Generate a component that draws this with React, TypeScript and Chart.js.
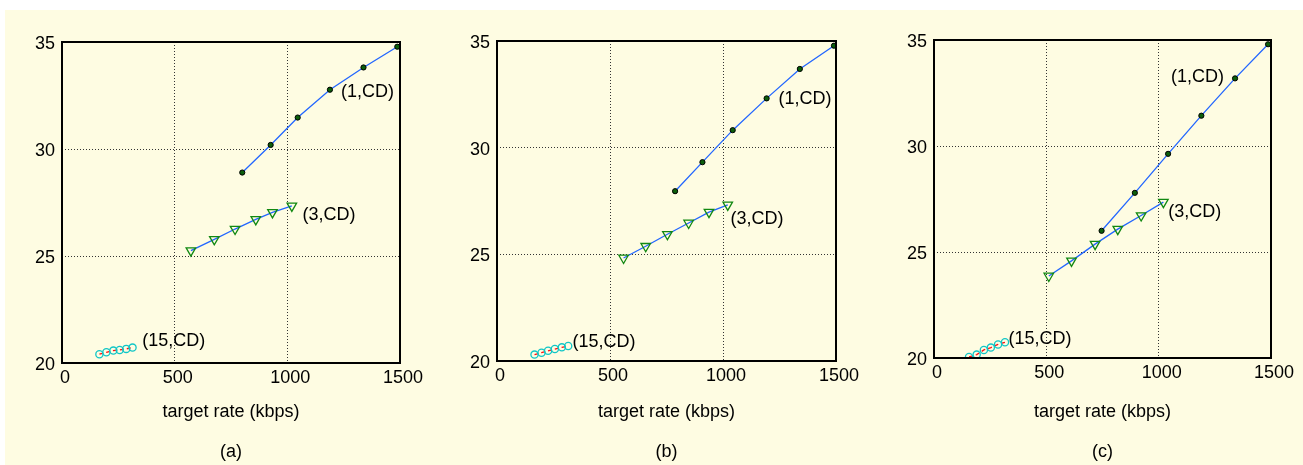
import React, { useEffect, useRef } from "react";
import { Chart, registerables } from "chart.js";

Chart.register(...registerables);

// ---------- data ----------
const xTickValues = [0, 500, 1000, 1500];
const yTickValues = [20, 25, 30, 35];
const xTitle = "target rate (kbps)";
const panelNames = ["(a)", "(b)", "(c)"];
const seriesNames = ["(1,CD)", "(3,CD)", "(15,CD)"];

// panel (a)
const aRate1 = [800, 926, 1046, 1189, 1338, 1488];
const aPsnr1 = [28.9, 30.19, 31.47, 32.77, 33.81, 34.78];
const aRate3 = [572, 676, 768, 860, 934, 1020];
const aPsnr3 = [25.25, 25.78, 26.26, 26.71, 27.04, 27.34];
const aRate15 = [166, 197, 228, 256, 285, 313];
const aPsnr15 = [20.41, 20.5, 20.58, 20.61, 20.66, 20.72];
const aLabelX = [1238, 1067, 356];
const aLabelY = [32.64, 26.92, 21.03];

// panel (b)
const bRate1 = [788, 909, 1043, 1193, 1340, 1491];
const bPsnr1 = [27.96, 29.32, 30.82, 32.31, 33.69, 34.78];
const bRate3 = [560, 658, 754, 848, 938, 1021];
const bPsnr3 = [24.83, 25.38, 25.94, 26.47, 26.98, 27.32];
const bRate15 = [166, 197, 226, 256, 287, 315];
const bPsnr15 = [20.3, 20.39, 20.48, 20.56, 20.64, 20.7];
const bLabelX = [1246, 1033, 334];
const bLabelY = [32.26, 26.65, 20.89];

// panel (c)
const cRate1 = [746, 894, 1042, 1190, 1340, 1487];
const cPsnr1 = [26.0, 27.79, 29.63, 31.43, 33.19, 34.8];
const cRate3 = [511, 612, 717, 818, 922, 1021];
const cPsnr3 = [23.87, 24.58, 25.37, 26.08, 26.72, 27.35];
const cRate15 = [156, 190, 222, 253, 285, 316];
const cPsnr15 = [20.05, 20.16, 20.38, 20.49, 20.64, 20.74];
const cLabelX = [1055, 1043, 332];
const cLabelY = [33.25, 26.88, 20.9];

// ---------- helpers ----------
const FONT = '"Liberation Sans", Arial, sans-serif';
const FS = 18;
const toPts = (xs: number[], ys: number[]) => xs.map((x, i) => ({ x, y: ys[i] }));

const framePlugin = {
  id: "frameLabels",
  afterDatasetsDraw(chart: any, _args: any, opts: any) {
    const { ctx, chartArea, scales } = chart;
    const { left, top, right, bottom } = chartArea;
    ctx.save();
    ctx.strokeStyle = "#000";
    ctx.lineWidth = 2;
    ctx.setLineDash([]);
    ctx.strokeRect(left, top, right - left, bottom - top);
    ctx.font = `${FS}px ${FONT}`;
    ctx.fillStyle = "#000";
    ctx.textBaseline = "middle";
    ctx.textAlign = "left";
    (opts.labels || []).forEach((l: any) => {
      ctx.fillText(l.text, scales.x.getPixelForValue(l.x), scales.y.getPixelForValue(l.y));
    });
    ctx.restore();
  },
};

type PanelProps = {
  left: number;
  top: number;
  width: number;
  xAxisHeight: number;
  name: string;
  r1: number[]; p1: number[];
  r3: number[]; p3: number[];
  r15: number[]; p15: number[];
  lx: number[]; ly: number[];
};

function Panel(props: PanelProps) {
  const ref = useRef<HTMLCanvasElement>(null);
  const height = 465 - props.top;
  useEffect(() => {
    if (!ref.current) return;
    const gridColor = (c: any) => {
      const v = c.tick ? c.tick.value : null;
      if (v === 0 || v === 1500 || v === 20 || v === 35) return "rgba(0,0,0,0)";
      return "#333";
    };
    const chart = new Chart(ref.current, {
      type: "scatter",
      data: {
        datasets: [
          {
            label: seriesNames[0],
            data: toPts(props.r1, props.p1),
            showLine: true,
            borderColor: "#2266ff",
            borderWidth: 1.3,
            pointStyle: "circle",
            pointRadius: 2.6,
            pointBackgroundColor: "#0b5e0b",
            pointBorderColor: "#000",
            pointBorderWidth: 1,
          },
          {
            label: seriesNames[1],
            data: toPts(props.r3, props.p3),
            showLine: true,
            borderColor: "#2266ff",
            borderWidth: 1.3,
            pointStyle: "triangle",
            rotation: 180,
            pointRadius: 5.5,
            pointBackgroundColor: "rgba(0,0,0,0)",
            pointBorderColor: "#118811",
            pointBorderWidth: 1.3,
          },
          {
            label: seriesNames[2],
            data: toPts(props.r15, props.p15),
            showLine: true,
            borderColor: "#ff1010",
            borderWidth: 1.3,
            borderDash: [4, 3],
            pointStyle: "circle",
            pointRadius: 3.6,
            pointBackgroundColor: "rgba(0,0,0,0)",
            pointBorderColor: "#11c6c6",
            pointBorderWidth: 1.3,
          },
        ],
      },
      options: {
        animation: false,
        responsive: false,
        maintainAspectRatio: false,
        layout: { padding: { top: 20, right: 30, left: 0, bottom: 0 } },
        plugins: {
          legend: { display: false },
          tooltip: { enabled: false },
          frameLabels: {
            labels: seriesNames.map((t, i) => ({ text: t, x: props.lx[i], y: props.ly[i] })),
          },
        } as any,
        scales: {
          x: {
            type: "linear",
            min: 0,
            max: 1500,
            afterBuildTicks: (s: any) => {
              s.ticks = xTickValues.map((v) => ({ value: v }));
            },
            afterFit: (s: any) => {
              s.height = props.xAxisHeight;
            },
            grid: { color: gridColor, lineWidth: 1, drawTicks: false, borderDash: [1, 2] } as any,
            border: { display: false, dash: [1, 2] },
            ticks: {
              color: "#000",
              font: { size: FS, family: FONT },
              padding: 4,
              labelOffset: 3,
              maxRotation: 0,
              callback: (v: any) => String(v),
            },
            title: {
              display: true,
              text: [xTitle, "", props.name],
              color: "#000",
              font: { size: FS, family: FONT, lineHeight: "20px" },
              padding: { top: 0, bottom: 3 },
            },
          },
          y: {
            type: "linear",
            min: 20,
            max: 35,
            afterBuildTicks: (s: any) => {
              s.ticks = yTickValues.map((v) => ({ value: v }));
            },
            afterFit: (s: any) => {
              s.width = 50;
            },
            grid: { color: gridColor, lineWidth: 1, drawTicks: false, borderDash: [1, 2] } as any,
            border: { display: false, dash: [1, 2] },
            ticks: {
              color: "#000",
              font: { size: FS, family: FONT },
              padding: 7,
              labelOffset: 2,
              callback: (v: any) => String(v),
            },
          },
        },
      },
      plugins: [framePlugin as any],
    });
    return () => chart.destroy();
  }, []);
  return (
    <canvas
      ref={ref}
      width={props.width}
      height={height}
      style={{ position: "absolute", left: props.left, top: props.top, width: props.width, height }}
    />
  );
}

export default function App() {
  return (
    <div style={{ position: "fixed", left: 0, top: 0, width: 1303, height: 465, background: "#fff", overflow: "hidden" }}>
      <div style={{ position: "absolute", left: 5, top: 10, right: 0, bottom: 0, background: "#fefce2" }} />
      <Panel left={12} top={22} width={418} xAxisHeight={102} name={panelNames[0]}
        r1={aRate1} p1={aPsnr1} r3={aRate3} p3={aPsnr3} r15={aRate15} p15={aPsnr15} lx={aLabelX} ly={aLabelY} />
      <Panel left={447} top={21} width={419} xAxisHeight={104} name={panelNames[1]}
        r1={bRate1} p1={bPsnr1} r3={bRate3} p3={bPsnr3} r15={bRate15} p15={bPsnr15} lx={bLabelX} ly={bLabelY} />
      <Panel left={884} top={20} width={417} xAxisHeight={107} name={panelNames[2]}
        r1={cRate1} p1={cPsnr1} r3={cRate3} p3={cPsnr3} r15={cRate15} p15={cPsnr15} lx={cLabelX} ly={cLabelY} />
    </div>
  );
}
